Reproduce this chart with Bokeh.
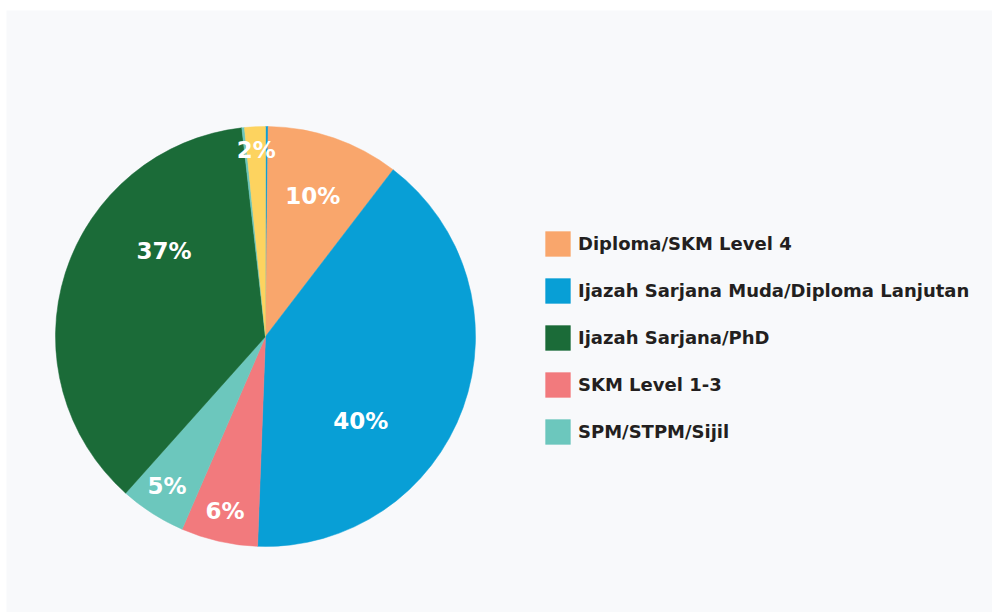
import math
from bokeh.plotting import figure
from bokeh.models import ColumnDataSource, Legend, LegendItem
from bokeh.core.properties import value
from bokeh.embed import file_html
from bokeh.resources import INLINE

# ---- data (clockwise from 12 o'clock) ----
categories = ["Lain-lain (a)", "Diploma/SKM Level 4", "Ijazah Sarjana Muda/Diploma Lanjutan",
              "SKM Level 1-3", "SPM/STPM/Sijil", "Ijazah Sarjana/PhD", "Lain-lain (b)", "Lain-lain (c)"]
shares = [0.2, 10.2, 40.2, 5.9, 5.1, 36.6, 0.2, 1.6]
colors = ["#0a9fd8", "#f9a66c", "#089fd6", "#f27a7d", "#6cc7bd", "#1b6b38", "#6cc7bd", "#fdd35f"]
legend_categories = ["Diploma/SKM Level 4", "Ijazah Sarjana Muda/Diploma Lanjutan",
                     "Ijazah Sarjana/PhD", "SKM Level 1-3", "SPM/STPM/Sijil"]

# ---- layout ----
W, H = 992, 612
TOP, LEFT = 10, 6
PX = 210.0           # pixels per unit radius
pw, ph = W - LEFT, H - TOP
CX, CY = 265 - LEFT, 336 - TOP   # pie centre in plot-area pixels (from left, from top)
x_range = (-CX / PX, (pw - CX) / PX)
y_range = (-(ph - CY) / PX, CY / PX)

total = sum(shares)
starts, ends, lx, ly, ltxt = [], [], [], [], []
cum = 0.0
for s in shares:
    a0 = math.pi / 2 - cum / total * 2 * math.pi
    cum += s
    a1 = math.pi / 2 - cum / total * 2 * math.pi
    starts.append(a0)
    ends.append(a1)
    frac = s / total
    mid = (a0 + a1) / 2
    span = a0 - a1
    if frac > 0.2:
        mid -= 0.16 * span
        rf = 0.62
    elif frac >= 0.08:
        rf = 0.69
    else:
        rf = 0.87
    if frac >= 0.01:
        lx.append(rf * math.cos(mid))
        ly.append(rf * math.sin(mid))
        ltxt.append(f"{round(frac * 100)}%")

src = ColumnDataSource(dict(cat=categories, start=starts, end=ends, color=colors))

p = figure(width=W, height=H, x_range=x_range, y_range=y_range,
           output_backend="svg", toolbar_location=None,
           min_border_left=LEFT, min_border_right=0, min_border_bottom=0, min_border_top=TOP,
           background_fill_color="#f8f9fb", border_fill_color="white")
p.axis.visible = False
p.grid.visible = False
p.outline_line_color = None

wr = p.wedge(x=0, y=0, radius=1.0, start_angle="start", end_angle="end", direction="clock",
             fill_color="color", line_color="color", line_width=0.5, source=src)

p.text(x=lx, y=ly, text=ltxt, text_color="white", text_font=value("DejaVu Sans"),
       text_font_style="bold", text_font_size="23px", text_align="center", text_baseline="middle",
       y_offset=-4)

items = [LegendItem(label=c, renderers=[wr], index=categories.index(c)) for c in legend_categories]
legend = Legend(items=items, location=(536, 165), orientation="vertical",
                glyph_width=31, glyph_height=31, spacing=16, padding=0, margin=0,
                label_text_font="DejaVu Sans", label_text_font_style="bold",
                label_text_font_size="18px", label_text_color="#231f20",
                label_standoff=5, border_line_color=None, background_fill_alpha=0)
p.add_layout(legend, "center")

open("out.html", "w").write(file_html(p, INLINE))
